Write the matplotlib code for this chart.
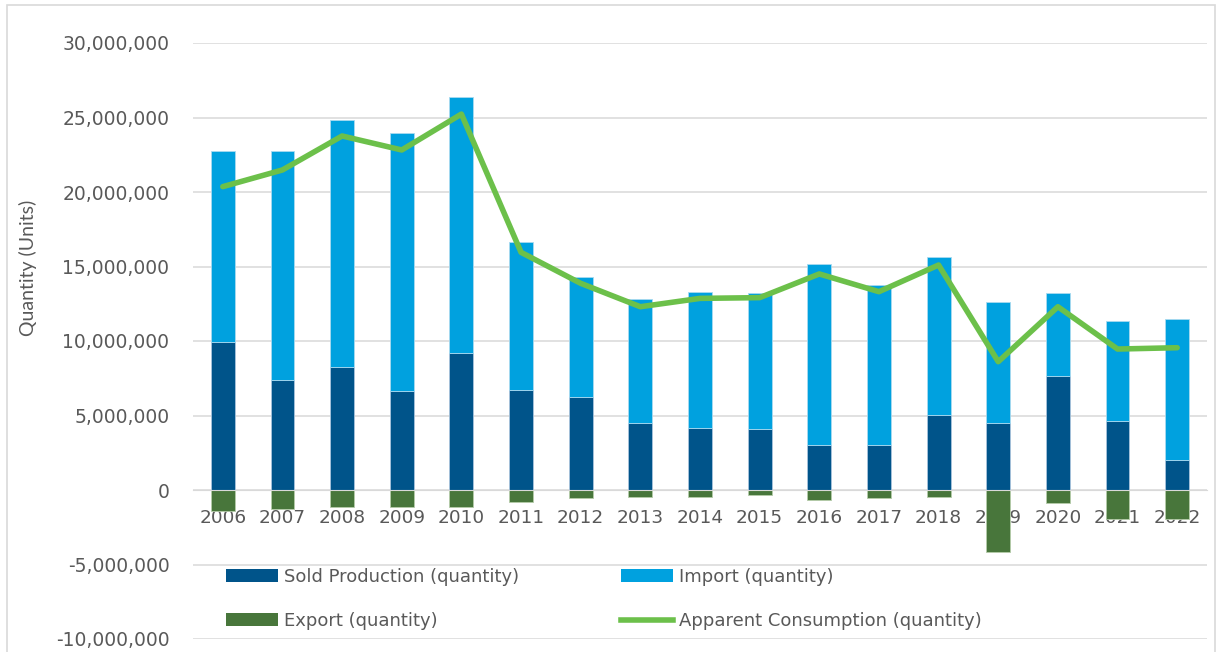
import matplotlib
matplotlib.use("Agg")
import matplotlib.pyplot as plt
from matplotlib.patches import Patch, Rectangle
from matplotlib.lines import Line2D
from matplotlib.ticker import FuncFormatter, MultipleLocator
import numpy as np

years = ["2006", "2007", "2008", "2009", "2010", "2011", "2012", "2013", "2014",
         "2015", "2016", "2017", "2018", "2019", "2020", "2021", "2022"]
sold_production = [9950000, 7380000, 8230000, 6670000, 9190000, 6720000, 6260000, 4470000,
                   4180000, 4070000, 3020000, 3020000, 5030000, 4470000, 7650000, 4650000, 2010000]
bar_totals = [22730000, 22750000, 24830000, 23940000, 26350000, 16660000, 14270000, 12800000,
              13310000, 13240000, 15140000, 13760000, 15620000, 12640000, 13200000, 11340000, 11450000]
imports = [t - s for t, s in zip(bar_totals, sold_production)]
exports = [-1400000, -1300000, -1140000, -1120000, -1140000, -780000, -510000, -490000,
           -450000, -360000, -650000, -510000, -490000, -4180000, -900000, -1950000, -1970000]
apparent = [20360000, 21480000, 23760000, 22820000, 25230000, 15950000, 13870000, 12300000,
            12860000, 12910000, 14500000, 13310000, 15100000, 8610000, 12300000, 9460000, 9550000]

C_SOLD = "#00548A"
C_IMP = "#00A1DF"
C_EXP = "#48763B"
C_LINE = "#6CC04A"
TXT = "#595959"
FONT = ["DejaVu Sans"]
plt.rcParams["font.family"] = FONT

fig = plt.figure(figsize=(12.25, 6.52), dpi=100)
ax = fig.add_axes([193 / 1225, 1 - 639 / 652, (1207 - 193) / 1225, (639 - 43) / 652])

x = np.arange(len(years))
w = 0.40
ax.bar(x, sold_production, w, color=C_SOLD, edgecolor="#A9C4DC", linewidth=0.6, zorder=2)
ax.bar(x, imports, w, bottom=sold_production, color=C_IMP, edgecolor="#A9DAF0", linewidth=0.6, zorder=2)
ax.bar(x, exports, w, color=C_EXP, edgecolor="#B5CCAA", linewidth=0.6, zorder=2)
ax.plot(x, apparent, color=C_LINE, lw=4.0, solid_joinstyle="round", solid_capstyle="round", zorder=3)

ax.set_xlim(-0.5, len(years) - 0.5)
ax.set_ylim(-10000000, 30000000)
ax.yaxis.set_major_locator(MultipleLocator(5000000))
ax.yaxis.set_major_formatter(FuncFormatter(lambda v, p: f"{int(v):,}"))
ax.set_axisbelow(True)
ax.grid(axis="y", color="#D9D9D9", lw=1.1)
for s in ["left", "right", "top"]:
    ax.spines[s].set_visible(False)
ax.spines["bottom"].set_position(("data", 0))
ax.spines["bottom"].set_color("#D9D9D9")
ax.set_xticks(x)
ax.set_xticklabels(years)
ax.tick_params(axis="x", length=0, pad=14, labelsize=13.3, labelcolor=TXT)
ax.tick_params(axis="y", length=0, pad=17, labelsize=13.5, labelcolor=TXT)

fig.text(28 / 1225, 1 - 268 / 652, "Quantity (Units)", rotation=90, ha="center", va="center",
         fontsize=14, color=TXT, family=["Lato", "DejaVu Sans"])

h_sold = Patch(facecolor=C_SOLD)
h_imp = Patch(facecolor=C_IMP)
h_exp = Patch(facecolor=C_EXP)
h_line = Line2D([], [], color=C_LINE, lw=4.0)
common = dict(loc="center left", frameon=False, fontsize=13, labelcolor=TXT, handlelength=2.9,
              handleheight=0.75, handletextpad=0.3, labelspacing=1.45, borderpad=0, borderaxespad=0,
              bbox_transform=fig.transFigure)
leg1 = ax.legend([h_sold, h_exp], ["Sold Production (quantity)", "Export (quantity)"],
                 bbox_to_anchor=(226 / 1225, 1 - 599 / 652), **common)
ax.add_artist(leg1)
ax.legend([h_imp, h_line], ["Import (quantity)", "Apparent Consumption (quantity)"],
          bbox_to_anchor=(621 / 1225, 1 - 599 / 652), **common)

fig.patches.append(Rectangle((7 / 1225, -0.02), 1 - 17 / 1225, 1.02 - 5 / 652,
                             transform=fig.transFigure, fill=False, edgecolor="#D9D9D9", lw=1.2))

fig.savefig("out.png", dpi=100)
